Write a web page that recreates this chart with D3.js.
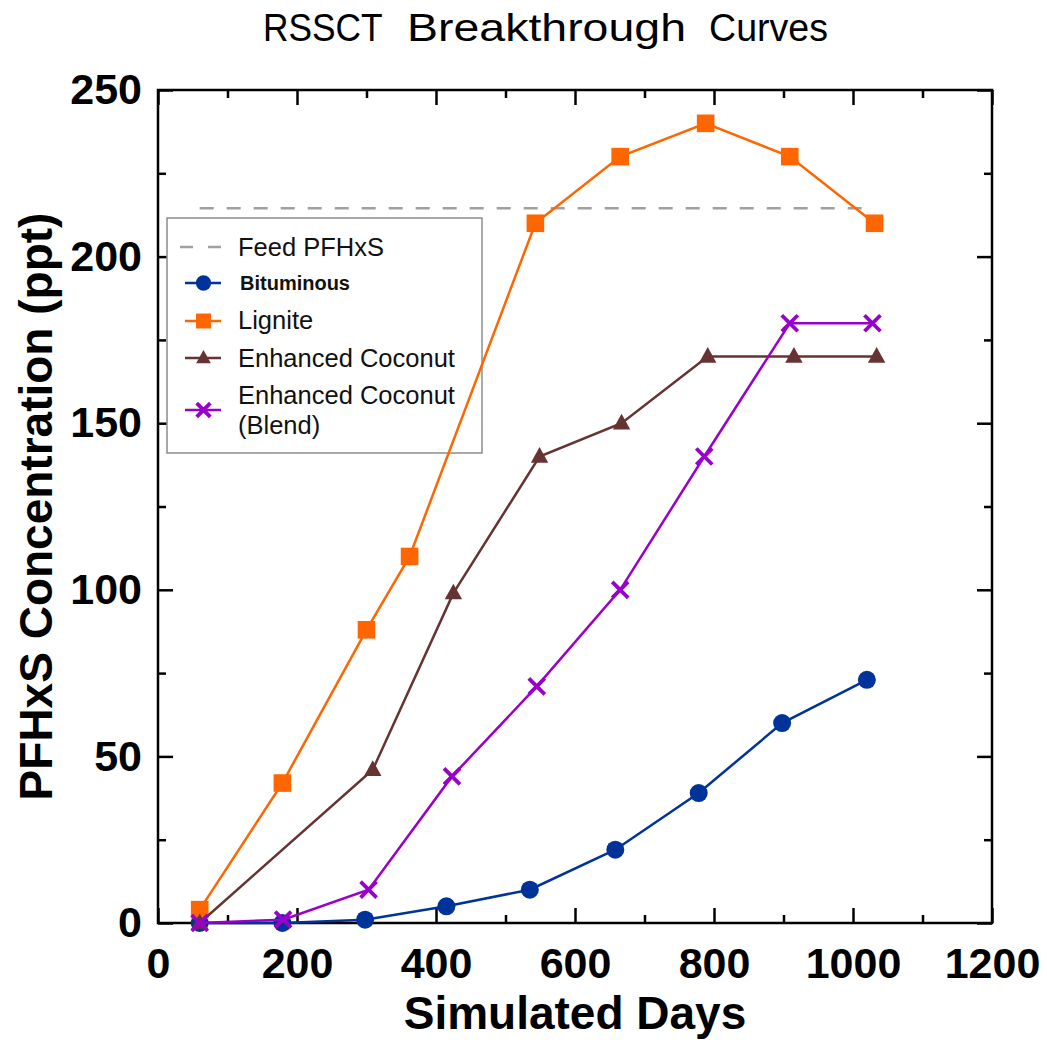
<!DOCTYPE html>
<html>
<head>
<meta charset="utf-8">
<script src="https://cdn.jsdelivr.net/npm/d3@7"></script>
<style>
  html, body { margin: 0; padding: 0; background: #fff; }
  svg { display: block; }
</style>
</head>
<body>
<svg id="chart" width="1047" height="1040"></svg>
<script>
// ---- data ----
const bituminousDays = [60, 179, 298, 415, 535, 658, 778, 898, 1020];
const bituminousVals = [0, 0, 1, 5, 10, 22, 39, 60, 73];
const ligniteDays = [60, 179, 300, 362, 543, 665, 788, 909, 1031];
const ligniteVals = [4, 42, 88, 110, 210, 230, 240, 230, 210];
const coconutDays = [60, 309, 425, 549, 667, 791, 915, 1034];
const coconutVals = [0, 46, 99, 140, 150, 170, 170, 170];
const blendDays = [60, 180, 303, 423, 545, 665, 786, 909, 1028];
const blendVals = [0, 1, 10, 44, 71, 100, 140, 180, 180];
const feedValue = 214.5;
const feedDays = [60, 1022];
const xTicks = [0, 200, 400, 600, 800, 1000, 1200];
const xMinorTicks = [100, 300, 500, 700, 900, 1100];
const yTicks = [0, 50, 100, 150, 200, 250];
const yMinorTicks = [25, 75, 125, 175, 225];
const seriesNames = ["Bituminous", "Lignite", "Enhanced Coconut", "Enhanced Coconut (Blend)"];
const titleWords = ["RSSCT", "Breakthrough", "Curves"];
const xTitle = "Simulated Days";
const yTitle = "PFHxS Concentration (ppt)";
const feedLabel = "Feed PFHxS";

const svg = d3.select("#chart");
const L = 158, R = 992, T = 90, B = 923;
const x = d3.scaleLinear().domain([0, 1200]).range([L, R]);
const y = d3.scaleLinear().domain([0, 250]).range([B, T]);
const FONT = "'Liberation Sans', Arial, Helvetica, sans-serif";

svg.append("rect").attr("width", 1047).attr("height", 1040).attr("fill", "#fff");

// title (one text element, words positioned to match the condensed original face)
const titleLayout = [{ x: 263, w: 119 }, { x: 407, w: 279 }, { x: 709, w: 119 }];
const title = svg.append("text").attr("y", 41)
  .attr("font-family", FONT).attr("font-size", 39).attr("fill", "#000");
titleWords.forEach((w, i) => {
  if (i > 0) title.append("tspan").text(" ");
  title.append("tspan").attr("x", titleLayout[i].x)
    .attr("textLength", titleLayout[i].w).attr("lengthAdjust", "spacingAndGlyphs").text(w);
});

// axes
function styleAxis(g) {
  g.select(".domain").remove();
  g.selectAll(".tick line").attr("stroke", "#000").attr("stroke-width", 2.5);
  g.selectAll("text").attr("font-family", FONT).attr("font-weight", "bold")
    .attr("font-size", 43).attr("fill", "#000");
}
svg.append("g").attr("transform", `translate(0,${B})`)
  .call(d3.axisBottom(x).tickValues(xTicks).tickSize(-15).tickPadding(24).tickFormat(d3.format("d")))
  .call(styleAxis);
svg.append("g").attr("transform", `translate(0,${B})`)
  .call(d3.axisBottom(x).tickValues(xMinorTicks).tickSize(-8).tickFormat(""))
  .call(styleAxis);
svg.append("g").attr("transform", `translate(0,${T})`)
  .call(d3.axisTop(x).tickValues(xTicks).tickSize(-15).tickFormat(""))
  .call(styleAxis);
svg.append("g").attr("transform", `translate(0,${T})`)
  .call(d3.axisTop(x).tickValues(xMinorTicks).tickSize(-8).tickFormat(""))
  .call(styleAxis);
svg.append("g").attr("transform", `translate(${L},0)`)
  .call(d3.axisLeft(y).tickValues(yTicks).tickSize(-15).tickPadding(16).tickFormat(d3.format("d")))
  .call(styleAxis);
svg.append("g").attr("transform", `translate(${L},0)`)
  .call(d3.axisLeft(y).tickValues(yMinorTicks).tickSize(-8).tickFormat(""))
  .call(styleAxis);
svg.append("g").attr("transform", `translate(${R},0)`)
  .call(d3.axisRight(y).tickValues(yTicks).tickSize(-15).tickFormat(""))
  .call(styleAxis);
svg.append("g").attr("transform", `translate(${R},0)`)
  .call(d3.axisRight(y).tickValues(yMinorTicks).tickSize(-8).tickFormat(""))
  .call(styleAxis);

// frame
svg.append("rect").attr("x", L).attr("y", T).attr("width", R - L).attr("height", B - T)
  .attr("fill", "none").attr("stroke", "#000").attr("stroke-width", 2.5);

// axis titles
svg.append("text").attr("x", (L + R) / 2).attr("y", 1029).attr("text-anchor", "middle")
  .attr("font-family", FONT).attr("font-weight", "bold").attr("font-size", 46).attr("fill", "#000")
  .text(xTitle);
svg.append("text").attr("transform", `translate(52,${(T + B) / 2}) rotate(-90)`)
  .attr("text-anchor", "middle")
  .attr("font-family", FONT).attr("font-weight", "bold").attr("font-size", 46).attr("fill", "#000")
  .text(yTitle);

// legend box
const lg = svg.append("g");
lg.append("rect").attr("x", 167).attr("y", 218).attr("width", 315).attr("height", 235)
  .attr("fill", "#fff").attr("stroke", "#8c8c8c").attr("stroke-width", 1.5);

// feed line
svg.append("line")
  .attr("x1", x(feedDays[0])).attr("x2", x(feedDays[1]))
  .attr("y1", y(feedValue)).attr("y2", y(feedValue))
  .attr("stroke", "#a0a0a0").attr("stroke-width", 2.5).attr("stroke-dasharray", "14,13");

const colors = ["#003399", "#ff6600", "#663333", "#9900cc"];
const series = [
  { days: bituminousDays, vals: bituminousVals, color: colors[0], marker: "circle" },
  { days: ligniteDays, vals: ligniteVals, color: colors[1], marker: "square" },
  { days: coconutDays, vals: coconutVals, color: colors[2], marker: "triangle" },
  { days: blendDays, vals: blendVals, color: colors[3], marker: "x" }
];

function drawMarker(g, type, cx, cy, color, s) {
  if (type === "circle") {
    g.append("circle").attr("cx", cx).attr("cy", cy).attr("r", 9 * s).attr("fill", color);
  } else if (type === "square") {
    const h = 8.8 * s;
    g.append("rect").attr("x", cx - h).attr("y", cy - h).attr("width", 2 * h).attr("height", 2 * h).attr("fill", color);
  } else if (type === "triangle") {
    const w = 8.7 * s;
    g.append("path").attr("d", `M${cx},${cy - 9.5 * s}L${cx + w},${cy + 6.2 * s}L${cx - w},${cy + 6.2 * s}Z`).attr("fill", color);
  } else {
    const h = 8 * s;
    g.append("path").attr("d", `M${cx - h},${cy - h}L${cx + h},${cy + h}M${cx - h},${cy + h}L${cx + h},${cy - h}`)
      .attr("stroke", color).attr("stroke-width", 3.8).attr("fill", "none");
  }
}

const line = d3.line().x(d => x(d[0])).y(d => y(d[1]));
series.forEach(s => {
  const pts = s.days.map((d, i) => [d, s.vals[i]]);
  const g = svg.append("g");
  g.append("path").attr("d", line(pts)).attr("fill", "none").attr("stroke", s.color).attr("stroke-width", 2.5);
  pts.forEach(p => drawMarker(g, s.marker, x(p[0]), y(p[1]), s.color, 1));
});

// legend entries
const lx1 = 185, lx2 = 221, ltx = 238;
lg.append("line").attr("x1", 180).attr("x2", 222).attr("y1", 247).attr("y2", 247)
  .attr("stroke", "#a0a0a0").attr("stroke-width", 2.5).attr("stroke-dasharray", "13,15");
lg.append("text").attr("x", ltx).attr("y", 256).attr("font-family", FONT).attr("font-size", 25.5).attr("fill", "#111").text(feedLabel);

const legendRows = [
  { y: 283, ty: 290, lines: [seriesNames[0]], bold: true },
  { y: 321, ty: 329, lines: [seriesNames[1]] },
  { y: 358, ty: 366.5, lines: [seriesNames[2]] },
  { y: 410, ty: 404, lines: ["Enhanced Coconut", "(Blend)"] }
];
legendRows.forEach((r, i) => {
  lg.append("line").attr("x1", lx1).attr("x2", lx2).attr("y1", r.y).attr("y2", r.y)
    .attr("stroke", series[i].color).attr("stroke-width", 2.5);
  drawMarker(lg, series[i].marker, (lx1 + lx2) / 2 + 0.5, r.y, series[i].color, 0.85);
  r.lines.forEach((t, j) => {
    lg.append("text").attr("x", ltx + (r.bold ? 2 : 0)).attr("y", r.ty + j * 29.5)
      .attr("font-family", FONT).attr("font-size", r.bold ? 20 : 25.5)
      .attr("font-weight", r.bold ? "bold" : "normal").attr("fill", "#111").text(t);
  });
});
</script>
</body>
</html>
